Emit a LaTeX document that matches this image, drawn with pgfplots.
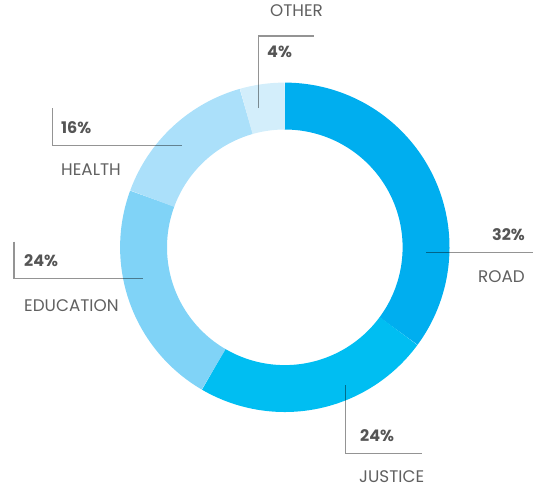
\documentclass[border=0pt]{standalone}
\usepackage{pgfplots}
\pgfplotsset{compat=1.18}
\usepackage{fontspec}
\setmainfont{Poppins}
\definecolor{cRoad}{HTML}{00AEEF}
\definecolor{cJustice}{HTML}{00BEF2}
\definecolor{cEdu}{HTML}{80D3F7}
\definecolor{cHealth}{HTML}{ABE0FA}
\definecolor{cOther}{HTML}{D3EEFB}
\definecolor{txtG}{HTML}{606060}
\definecolor{pctG}{HTML}{555555}
% share of the circle (percent)
\def\vRoad{35.1}
\def\vJustice{23.3}
\def\vEdu{22.2}
\def\vHealth{15.0}
\def\vOther{4.4}
\def\cx{284.8}
\def\cy{247.3}
\def\rmid{141.25}
\pgfmathsetmacro\aA{90}
\pgfmathsetmacro\aB{\aA-3.6*\vRoad}
\pgfmathsetmacro\aC{\aB-3.6*\vJustice}
\pgfmathsetmacro\aD{\aC-3.6*\vEdu}
\pgfmathsetmacro\aE{\aD-3.6*\vHealth}
\pgfmathsetmacro\aF{\aE-3.6*\vOther}
\begin{document}
\begin{tikzpicture}
\path[use as bounding box] (0,0) rectangle (534pt,488pt);
\begin{axis}[at={(0,0)}, anchor=south west, x=1pt, y=1pt, scale only axis,
  xmin=0, xmax=534, ymin=0, ymax=488, y dir=reverse, hide axis, clip=false,
  every axis plot/.append style={line cap=butt, line join=round}]
\addplot[draw=cRoad, line width=46.9pt, domain=\aB:\aA, samples=120] ({\cx+\rmid*cos(x)},{\cy-\rmid*sin(x)});
\addplot[draw=cJustice, line width=46.9pt, domain=\aC:\aB, samples=90] ({\cx+\rmid*cos(x)},{\cy-\rmid*sin(x)});
\addplot[draw=cEdu, line width=46.9pt, domain=\aD:\aC, samples=90] ({\cx+\rmid*cos(x)},{\cy-\rmid*sin(x)});
\addplot[draw=cHealth, line width=46.9pt, domain=\aE:\aD, samples=60] ({\cx+\rmid*cos(x)},{\cy-\rmid*sin(x)});
\addplot[draw=cOther, line width=46.9pt, domain=\aF:\aE, samples=30] ({\cx+\rmid*cos(x)},{\cy-\rmid*sin(x)});
% leader lines
\addplot[draw=black, draw opacity=0.42, line width=1.1pt, line join=miter] coordinates {(258.7,108) (258.7,36) (314,36)};
\addplot[draw=black, draw opacity=0.42, line width=1.1pt, line join=miter] coordinates {(52.3,108) (52.3,145.7) (181.7,145.7)};
\addplot[draw=black, draw opacity=0.42, line width=1.1pt, line join=miter] coordinates {(14,241.7) (14,278.3) (143.3,278.3)};
\addplot[draw=black, draw opacity=0.42, line width=1.1pt, line join=miter] coordinates {(426,252.7) (533,252.7)};
\addplot[draw=black, draw opacity=0.42, line width=1.1pt, line join=miter] coordinates {(345.3,385) (345.3,453.3) (421.7,453.3)};
% labels
\tikzset{lab/.style={inner sep=0pt, text=txtG, font=\fontsize{16.8}{19}\selectfont},
         pct/.style={inner sep=0pt, text=pctG, font=\fontsize{16}{19}\selectfont\bfseries}}
\node[lab, anchor=base west] at (axis cs:270,16) {OTHER};
\node[pct, anchor=base west] at (axis cs:267,57.3) {4\%};
\node[pct, anchor=base west] at (axis cs:61,133.3) {16\%};
\node[lab, anchor=base west] at (axis cs:61,175.7) {HEALTH};
\node[pct, anchor=base west] at (axis cs:24,266) {24\%};
\node[lab, anchor=base west] at (axis cs:24,311.7) {EDUCATION};
\node[pct, anchor=base east] at (axis cs:525,240) {32\%};
\node[lab, anchor=base east] at (axis cs:525,282.7) {ROAD};
\node[pct, anchor=base west] at (axis cs:360,441) {24\%};
\node[lab, anchor=base west] at (axis cs:359,482) {JUSTICE};
\end{axis}
\end{tikzpicture}
\end{document}
